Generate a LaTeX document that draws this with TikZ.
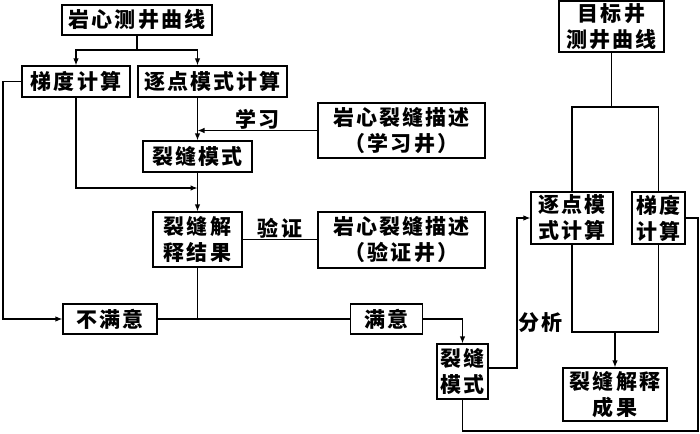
\documentclass[tikz,border=0pt]{standalone}
\usepackage{fontspec}
\setmainfont{Noto Sans CJK SC}[LetterSpace=10]
\usetikzlibrary{arrows.meta}
\begin{document}
\begin{tikzpicture}[x=1pt,y=-1pt,line width=1.2pt,
    >={Latex[length=7pt,width=5.5pt]},
    box/.style={draw,inner sep=0pt,align=center,font=\fontsize{21}{26}\selectfont\bfseries},
    lbl/.style={inner sep=1pt,font=\fontsize{21}{26}\selectfont\bfseries}]
\useasboundingbox (0,0) rectangle (700,433);
% left part: learning well
\node[box,minimum width=150,minimum height=30] (curve) at (137,20) {岩心测井曲线};
\node[box,minimum width=108,minimum height=31] (gradL) at (76,81.5) {梯度计算};
\node[box,minimum width=149,minimum height=31] (pointL) at (212.5,81.5) {逐点模式计算};
\node[box,minimum width=167,minimum height=55] (learn) at (401.5,130.5) {岩心裂缝描述\\（学习井）};
\node[box,minimum width=109,minimum height=31] (modeL) at (197.5,156.5) {裂缝模式};
\node[box,minimum width=89,minimum height=55] (result) at (197.5,239.5) {裂缝解\\释结果};
\node[box,minimum width=167,minimum height=56] (check) at (401.5,240) {岩心裂缝描述\\（验证井）};
\node[box,minimum width=94,minimum height=30] (bad) at (110,319) {不满意};
\node[box,minimum width=72,minimum height=30] (good) at (386.5,319) {满意};
% right part: target well
\node[box,minimum width=51,minimum height=55] (modeR) at (462.5,371.5) {裂缝\\模式};
\node[box,minimum width=105,minimum height=51] (target) at (611.5,26.5) {目标井\\测井曲线};
\node[box,minimum width=82,minimum height=52] (pointR) at (572,218) {逐点模\\式计算};
\node[box,minimum width=53,minimum height=52] (gradR) at (658.5,218) {梯度\\计算};
\node[box,minimum width=104,minimum height=53] (final) at (615,394.5) {裂缝解释\\成果};
\coordinate (c1) at (137,50);
\coordinate (j1) at (197.5,188);
\coordinate (lft) at (3,81.5);
\coordinate (rgt) at (698,431);
\coordinate (ana) at (517,368);
\coordinate (t1) at (611.5,107);
\coordinate (b1) at (615,332);
\draw (curve) -- (c1);
\draw[->] (c1) -| (gradL);
\draw[->] (c1) -| (pointL.north -| modeL);
\draw[->] (gradL.west) -- (lft) |- (bad.west);
\draw[->] (gradL) |- (j1);
\draw[->] (pointL.south -| modeL) -- (modeL);
\draw[->] (learn.west) -- (learn.west -| modeL) node[lbl,pos=0.5,above] {学习};
\draw[->] (modeL) -- (result);
\draw (result.east) -- (result.east -| check.west) node[lbl,pos=0.5,above] {验证};
\draw (result) -- (result |- bad);
\draw (bad) -- (good);
\draw[->] (good.east) -| (modeR);
\draw (modeR) |- (rgt) |- (gradR.east);
\draw[->] (modeR.east |- ana) -- (ana) |- (pointR.west) node[lbl,pos=0.15,right] {分析};
\draw (target) -- (t1);
\draw (pointR.north) |- (t1 -| gradR) -- (gradR.north);
\draw (pointR.south) |- (b1 -| gradR) -- (gradR.south);
\draw[->] (b1) -- (final);
\end{tikzpicture}
\end{document}
